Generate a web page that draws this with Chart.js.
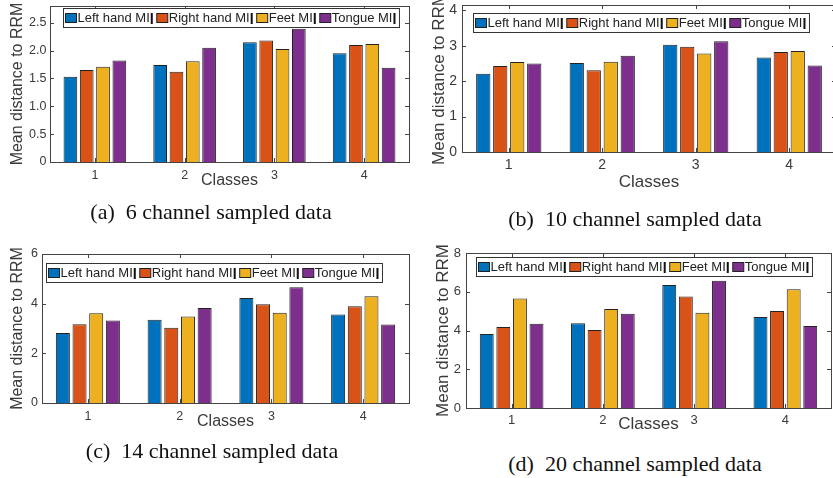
<!DOCTYPE html>
<html>
<head>
<meta charset="utf-8">
<script src="https://cdn.jsdelivr.net/npm/chart.js@4"></script>
<style>
  html, body { margin: 0; padding: 0; background: #fff; }
  body { width: 833px; height: 478px; position: relative; overflow: hidden; }
  canvas { position: absolute; }
  .cap { position: absolute; width: 400px; text-align: center; font: 22px 'Liberation Serif', 'Times New Roman', serif; line-height: 22px; color: #111; white-space: pre; }
</style>
</head>
<body>
<canvas id="c6" width="416" height="200" style="left:0;top:0"></canvas>
<canvas id="c10" width="425" height="200" style="left:416px;top:0"></canvas>
<canvas id="c14" width="416" height="200" style="left:0;top:239px"></canvas>
<canvas id="c20" width="425" height="200" style="left:416px;top:239px"></canvas>
<div class="cap" style="left:11px;top:201px">(a)  6 channel sampled data</div>
<div class="cap" style="left:435px;top:208px">(b)  10 channel sampled data</div>
<div class="cap" style="left:12px;top:440px">(c)  14 channel sampled data</div>
<div class="cap" style="left:435px;top:453px">(d)  20 channel sampled data</div>
<script>
const classes = ['1', '2', '3', '4']
const seriesNames = ['Left hand MI', 'Right hand MI', 'Feet MI', 'Tongue MI']
const seriesColors = ['#0072BD', '#D95319', '#EDB120', '#7E2F8E']

// 6 channels
const left6 = [1.53, 1.74, 2.15, 1.95]
const right6 = [1.65, 1.62, 2.18, 2.10]
const feet6 = [1.71, 1.81, 2.03, 2.12]
const tongue6 = [1.82, 2.05, 2.39, 1.69]
const yTicks6 = [0, 0.5, 1, 1.5, 2, 2.5]

// 10 channels
const left10 = [2.21, 2.51, 3.03, 2.67]
const right10 = [2.43, 2.31, 2.97, 2.82]
const feet10 = [2.54, 2.55, 2.78, 2.85]
const tongue10 = [2.50, 2.72, 3.13, 2.44]
const yTicks10 = [0, 1, 2, 3, 4]

// 14 channels
const left14 = [2.82, 3.35, 4.23, 3.56]
const right14 = [3.17, 3.03, 3.98, 3.90]
const feet14 = [3.61, 3.48, 3.63, 4.30]
const tongue14 = [3.32, 3.83, 4.66, 3.16]
const yTicks14 = [0, 2, 4, 6]

// 20 channels
const left20 = [3.82, 4.37, 6.35, 4.70]
const right20 = [4.18, 4.03, 5.75, 5.01]
const feet20 = [5.65, 5.11, 4.91, 6.13]
const tongue20 = [4.35, 4.87, 6.57, 4.23]
const yTicks20 = [0, 2, 4, 6, 8]

const FONT = "'Liberation Sans', Arial, sans-serif"
const TXT = '#3a3a3a'

// matlab style box, inward ticks and framed legend
const matlabBox = {
  id: 'matlabBox',
  afterDraw(chart, args, opts) {
    const { ctx, chartArea: a, scales: { x, y } } = chart
    ctx.save()
    ctx.strokeStyle = '#444'
    ctx.lineWidth = 1
    ctx.strokeRect(Math.round(a.left) + 0.5, Math.round(a.top) + 0.5, Math.round(a.right - a.left), Math.round(a.bottom - a.top))
    ctx.beginPath()
    y.ticks.forEach((t, i) => {
      const py = Math.round(y.getPixelForTick(i)) + 0.5
      ctx.moveTo(a.left, py); ctx.lineTo(a.left + 4, py)
      ctx.moveTo(a.right, py); ctx.lineTo(a.right - 4, py)
    })
    x.ticks.forEach((t, i) => {
      const px = Math.round(x.getPixelForTick(i)) + 0.5
      ctx.moveTo(px, a.bottom); ctx.lineTo(px, a.bottom - 4)
      ctx.moveTo(px, a.top); ctx.lineTo(px, a.top + 4)
    })
    ctx.stroke()

    // legend
    ctx.font = '13px ' + FONT
    const sets = chart.data.datasets
    const sq = 11, h = 19
    let w = 4
    sets.forEach(d => { w += sq + 1 + ctx.measureText(d.label).width + 1 + 2 + 4 })
    w -= 2
    const bx = Math.round(a.left + opts.dx) + 0.5
    const by = Math.round(a.top + opts.dy) + 0.5
    ctx.fillStyle = '#fff'
    ctx.fillRect(bx, by, w, h)
    ctx.strokeStyle = '#333'
    ctx.strokeRect(bx, by, w, h)
    let cx = bx + 2
    const cy = by + h / 2
    ctx.textBaseline = 'middle'
    sets.forEach(d => {
      ctx.fillStyle = d.backgroundColor
      ctx.fillRect(cx, cy - 4.5, sq, 9)
      ctx.strokeStyle = '#222'
      ctx.strokeRect(cx, cy - 4.5, sq, 9)
      cx += sq + 1
      ctx.fillStyle = '#222'
      ctx.fillText(d.label, cx, cy + 0.5)
      cx += ctx.measureText(d.label).width + 1
      ctx.fillStyle = '#111'
      ctx.fillRect(cx, cy - 5, 2, 11)
      cx += 2 + 4
    })
    ctx.restore()
  }
}

function makeChart(id, series, yMax, yTicks, L) {
  const datasets = series.map((vals, i) => ({
    label: seriesNames[i],
    data: vals,
    backgroundColor: seriesColors[i],
    borderColor: '#222',
    borderWidth: 1,
    categoryPercentage: 0.727,
    barPercentage: 0.84,
  }))
  return new Chart(document.getElementById(id), {
    type: 'bar',
    data: { labels: classes, datasets },
    plugins: [matlabBox],
    options: {
      responsive: false,
      animation: false,
      layout: { padding: { top: L.top, right: L.right, left: 0, bottom: 0 } },
      plugins: {
        legend: { display: false },
        tooltip: { enabled: false },
        matlabBox: { dx: L.lx, dy: L.ly },
      },
      scales: {
        x: {
          grid: { display: false, drawTicks: false },
          border: { display: false },
          ticks: { color: TXT, font: { family: FONT, size: L.tf }, padding: L.xtp, maxRotation: 0 },
          title: { display: true, text: 'Classes', color: TXT, font: { family: FONT, size: L.af }, padding: { top: 0, bottom: L.xtb } },
          afterFit: s => { s.height = L.xh; s.paddingLeft = 0; s.paddingRight = 0 },
        },
        y: {
          min: 0,
          max: yMax,
          bounds: 'data',
          afterBuildTicks: s => { s.ticks = yTicks.map(v => ({ value: v })) },
          grid: { display: false, drawTicks: false },
          border: { display: false },
          ticks: { color: TXT, font: { family: FONT, size: L.tf }, padding: L.ytp },
          title: { display: true, text: 'Mean distance to RRM', color: TXT, font: { family: FONT, size: L.af }, padding: { top: L.ytt, bottom: 0 } },
          afterFit: s => { s.width = L.yw; s.paddingTop = 0; s.paddingBottom = 0 },
        },
      },
    },
  })
}

makeChart('c6', [left6, right6, feet6, tongue6], 2.8, yTicks6,
  { top: 6, right: 7, yw: 50, xh: 38, tf: 12.5, af: 16, xtp: 6, xtb: 9.4, ytp: 3.5, ytt: 8.4, lx: 13, ly: 2 })
makeChart('c10', [left10, right10, feet10, tongue10], 4.15, yTicks10,
  { top: 5, right: 5, yw: 46, xh: 48, tf: 14, af: 17, xtp: 5, xtb: 7.3, ytp: 5, ytt: 12.8, lx: 11, ly: 8 })
makeChart('c14', [left14, right14, feet14, tongue14], 6, yTicks14,
  { top: 15, right: 7, yw: 42, xh: 36, tf: 12.5, af: 16, xtp: 6.5, xtb: 7.9, ytp: 4, ytt: 7.9, lx: 4, ly: 9 })
makeChart('c20', [left20, right20, feet20, tongue20], 8, yTicks20,
  { top: 14, right: 10, yw: 50, xh: 31, tf: 13, af: 17, xtp: 4.6, xtb: 4, ytp: 5, ytt: 16.8, lx: 10, ly: 4 })
</script>
</body>
</html>
